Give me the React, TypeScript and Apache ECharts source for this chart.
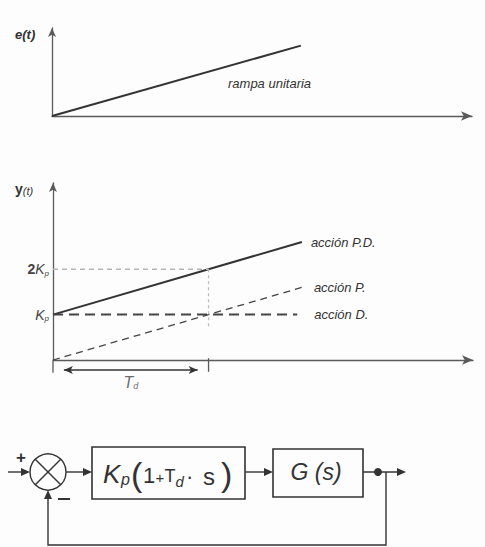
import React, { useEffect, useRef } from "react";
import * as echarts from "echarts";

const FONT = "'Liberation Sans', Arial, sans-serif";
const INK = "#333333";
const AXIS = "#5a5a5a";

// time axis: t in units of Td, upper chart e(t), lower chart y(t) in units of Kp
const tMax = 2.7;
const eMax = 2;
const yMax = 3.9;

const rampLine = [[0, 0], [1.6, 1.6]];
const pdLine = [[0, 1], [1.6, 2.6]];
const pLine = [[0, 0], [1.6, 1.6]];
const dLine = [[0, 1], [1.57, 1]];
const guideH = [[0, 2], [1, 2]];
const guideV = [[1, 2], [1, 0.73]];
const tdArrowX = [0.07, 0.93];
const tdArrowY = -0.22;
const tdTickLeft = [[0, -0.02], [0, -0.28]];
const tdTickRight = [[1, 0.04], [1, -0.26]];
const tdLabelAt = [0.5, -0.5];

const seriesNames = ["acción P.D.", "acción P.", "acción D."];
const rampName = "rampa unitaria";

function arrowRight(x: number, y: number, len = 9, half = 4) {
  return { type: "polygon", shape: { points: [[x, y], [x - len, y - half], [x - len, y + half]] }, style: { fill: INK } };
}
function arrowUp(x: number, y: number, len = 9, half = 4) {
  return { type: "polygon", shape: { points: [[x, y], [x - half, y + len], [x + half, y + len]] }, style: { fill: INK } };
}
function seg(x1: number, y1: number, x2: number, y2: number, w = 1.4) {
  return { type: "line", shape: { x1, y1, x2, y2 }, style: { stroke: INK, lineWidth: w } };
}
function txt(x: number, y: number, text: string, fontSize: number, extra: any = {}) {
  return {
    type: "text",
    x,
    y,
    style: { text, fontSize, fontFamily: FONT, fill: INK, verticalAlign: "middle", align: "left", ...extra },
  };
}

function axisX(gridIndex: number) {
  return {
    type: "value",
    gridIndex,
    min: 0,
    max: tMax,
    axisLine: {
      show: true,
      onZero: false,
      symbol: ["none", "arrow"],
      symbolSize: [7, 11],
      lineStyle: { color: AXIS, width: 1.3 },
    },
    axisTick: { show: false },
    axisLabel: { show: false },
    splitLine: { show: false },
  };
}

export default function App() {
  const ref = useRef<HTMLDivElement>(null);

  useEffect(() => {
    if (!ref.current) return;
    const chart = echarts.init(ref.current, null, { renderer: "svg" });

    const cx = 48, cy = 472, r = 18;
    const d = r * 0.7071;

    const option: any = {
      animation: false,
      backgroundColor: "#fdfdfd",
      grid: [
        { left: 52, top: 28, width: 420, height: 88 },
        { left: 53, top: 183, width: 420, height: 177 },
      ],
      xAxis: [axisX(0), axisX(1)],
      yAxis: [
        {
          type: "value",
          gridIndex: 0,
          min: 0,
          max: eMax,
          axisLine: { show: true, onZero: false, symbol: ["none", "arrow"], symbolSize: [6, 9], lineStyle: { color: AXIS, width: 1.3 } },
          axisTick: { show: false },
          axisLabel: { show: false },
          splitLine: { show: false },
        },
        {
          type: "value",
          gridIndex: 1,
          min: 0,
          max: yMax,
          interval: 1,
          axisLine: { show: true, onZero: false, symbol: ["none", "arrow"], symbolSize: [6, 9], lineStyle: { color: AXIS, width: 1.3 } },
          axisTick: { show: false },
          splitLine: { show: false },
          axisLabel: {
            show: true,
            margin: 4,
            formatter: (v: number) => (v === 1 ? "{k|K}{s|p}" : v === 2 ? "{n|2}{k|K}{s|p}" : ""),
            rich: {
              n: { fontSize: 14, fontWeight: "bold", fontFamily: FONT, color: "#444" },
              k: { fontSize: 14, fontStyle: "italic", fontFamily: FONT, color: "#444" },
              s: { fontSize: 8, fontStyle: "italic", fontFamily: FONT, color: "#444", padding: [8, 0, 0, 0] },
            },
          },
        },
      ],
      series: [
        {
          type: "line",
          name: rampName,
          xAxisIndex: 0,
          yAxisIndex: 0,
          data: rampLine,
          showSymbol: false,
          lineStyle: { color: INK, width: 2 },
        },
        {
          type: "line",
          name: seriesNames[0],
          xAxisIndex: 1,
          yAxisIndex: 1,
          data: pdLine,
          showSymbol: false,
          lineStyle: { color: INK, width: 2 },
          endLabel: { show: true, formatter: seriesNames[0], distance: 9, fontSize: 13, fontStyle: "italic", fontFamily: FONT, color: INK },
        },
        {
          type: "line",
          name: seriesNames[1],
          xAxisIndex: 1,
          yAxisIndex: 1,
          data: pLine,
          showSymbol: false,
          lineStyle: { color: "#444", width: 1.3, type: [7, 5] },
          endLabel: { show: true, formatter: seriesNames[1], distance: 12, fontSize: 13, fontStyle: "italic", fontFamily: FONT, color: INK },
        },
        {
          type: "line",
          name: seriesNames[2],
          xAxisIndex: 1,
          yAxisIndex: 1,
          data: dLine,
          showSymbol: false,
          lineStyle: { color: "#444", width: 2, type: [10, 6] },
          endLabel: { show: true, formatter: seriesNames[2], distance: 17, fontSize: 13, fontStyle: "italic", fontFamily: FONT, color: INK },
        },
        {
          type: "line",
          xAxisIndex: 1,
          yAxisIndex: 1,
          data: guideH,
          showSymbol: false,
          lineStyle: { color: "#b5b5b5", width: 1.3, type: [5, 4] },
        },
        {
          type: "line",
          xAxisIndex: 1,
          yAxisIndex: 1,
          data: guideV,
          showSymbol: false,
          lineStyle: { color: "#bdbdbd", width: 1.3, type: [3, 3] },
        },
        {
          type: "line",
          xAxisIndex: 1,
          yAxisIndex: 1,
          clip: false,
          data: [
            { value: [tdArrowX[0], tdArrowY], symbol: "arrow", symbolRotate: 90 },
            { value: [tdArrowX[1], tdArrowY], symbol: "arrow", symbolRotate: -90 },
          ],
          showSymbol: true,
          symbolSize: [6, 9],
          itemStyle: { color: INK },
          lineStyle: { color: INK, width: 1.3 },
        },
        {
          type: "line",
          xAxisIndex: 1,
          yAxisIndex: 1,
          clip: false,
          data: tdTickLeft,
          showSymbol: false,
          lineStyle: { color: AXIS, width: 1.3 },
        },
        {
          type: "line",
          xAxisIndex: 1,
          yAxisIndex: 1,
          clip: false,
          data: tdTickRight,
          showSymbol: false,
          lineStyle: { color: AXIS, width: 1.3 },
        },
        {
          type: "scatter",
          xAxisIndex: 1,
          yAxisIndex: 1,
          clip: false,
          symbolSize: 1,
          itemStyle: { color: "rgba(0,0,0,0)" },
          data: [tdLabelAt],
          label: {
            show: true,
            position: "inside",
            formatter: "{t|T}{d|d}",
            rich: {
              t: { fontSize: 16, fontStyle: "italic", fontFamily: FONT, color: "#444" },
              d: { fontSize: 9, fontStyle: "italic", fontFamily: FONT, color: "#444", padding: [7, 0, 0, 0] },
            },
          },
        },
      ],
      graphic: [
        // axis names
        txt(15, 34, "e(t)", 13, { fontStyle: "italic", fontWeight: "bold" }),
        {
          type: "text",
          x: 15,
          y: 189,
          style: {
            text: "{a|y}{b|(t)}",
            verticalAlign: "middle",
            rich: {
              a: { fontSize: 14, fontWeight: "bold", fontFamily: FONT, fill: INK },
              b: { fontSize: 11, fontStyle: "italic", fontFamily: FONT, fill: INK, padding: [3, 0, 0, 0] },
            },
          },
        },
        txt(228, 83, rampName, 13, { fontStyle: "italic" }),

        // ---- block diagram ----
        // input
        seg(8, cy, cx - r - 2, cy),
        arrowRight(cx - r, cy),
        txt(16, 457, "+", 17, { fontWeight: "bold" }),
        // summing junction
        { type: "circle", shape: { cx, cy, r }, style: { fill: "none", stroke: INK, lineWidth: 1.4 } },
        seg(cx - d, cy - d, cx + d, cy + d),
        seg(cx - d, cy + d, cx + d, cy - d),
        seg(58, 499, 70, 499, 2),
        // to controller block
        seg(cx + r, cy, 86, cy),
        arrowRight(92, cy),
        { type: "rect", shape: { x: 92, y: 447, width: 153, height: 52 }, style: { fill: "none", stroke: INK, lineWidth: 1.6 } },
        txt(103, 474, "K", 26, { fontStyle: "italic" }),
        txt(121, 479, "p", 16, { fontStyle: "italic" }),
        txt(131, 474, "(", 34, { fontWeight: "lighter" }),
        txt(143, 475, "1", 22),
        txt(155.5, 477, "+", 15),
        txt(164.5, 476, "T", 18),
        txt(175.5, 481, "d", 15, { fontStyle: "italic" }),
        txt(186, 476, "·", 22),
        txt(203, 476, "s", 24),
        txt(221, 474, ")", 34, { fontWeight: "lighter" }),
        // to plant block
        seg(245, cy, 267, cy),
        arrowRight(273, cy),
        { type: "rect", shape: { x: 273, y: 449, width: 90, height: 48 }, style: { fill: "none", stroke: INK, lineWidth: 1.6 } },
        txt(316, 472, "G (s)", 23, { fontStyle: "italic", align: "center" }),
        // output
        seg(363, cy, 398, cy),
        arrowRight(406, cy),
        { type: "circle", shape: { cx: 378, cy, r: 4 }, style: { fill: INK } },
        // feedback path
        { type: "polyline", shape: { points: [[386, cy], [386, 545], [cx, 545], [cx, cy + r + 8]] }, style: { stroke: INK, lineWidth: 1.4, fill: "none" } },
        arrowUp(cx, cy + r),
      ],
    };

    chart.setOption(option);
    return () => chart.dispose();
  }, []);

  return <div ref={ref} style={{ position: "fixed", left: 0, top: 0, width: 485, height: 547 }} />;
}
